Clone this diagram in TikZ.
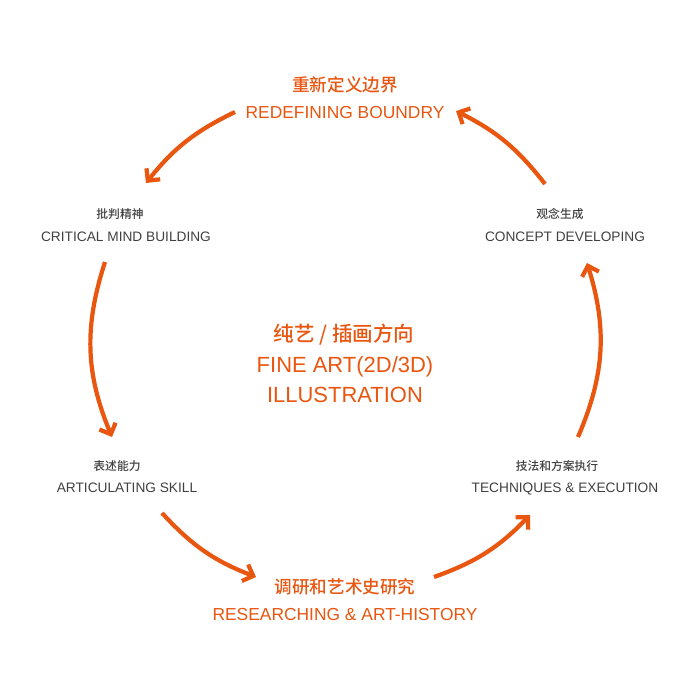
\documentclass[tikz,border=0pt]{standalone}
\usepackage{fontspec}
\setmainfont{Liberation Sans}
\newfontfamily\cjk{Noto Sans CJK SC Medium}
\usepackage{tikz}
\usetikzlibrary{arrows.meta, positioning}
\definecolor{accent}{RGB}{232, 86, 16}
\definecolor{labelgray}{RGB}{64, 64, 64}

\begin{document}
\begin{tikzpicture}[
    x=0.02cm, y=0.02cm,
    cnmain/.style={font=\cjk\fontsize{10}{12}\selectfont, text=accent, inner sep=0pt, text height=.76em, text depth=0pt},
    enmain/.style={font=\fontsize{9.9}{12}\selectfont, text=accent, inner sep=0pt, text height=.72em, text depth=0pt},
    cnsub/.style={font=\cjk\fontsize{6.7}{8}\selectfont, text=labelgray, inner sep=0pt, text height=.76em, text depth=0pt},
    ensub/.style={font=\fontsize{7.8}{10}\selectfont, text=labelgray, inner sep=0pt, text height=.72em, text depth=0pt},
    cnmid/.style={font=\cjk\fontsize{11.7}{14}\selectfont, text=accent, inner sep=0pt, text height=.76em, text depth=0pt},
    enmid/.style={font=\fontsize{12.5}{15}\selectfont, text=accent, inner sep=0pt, text height=.72em, text depth=0pt},
    arrow/.style={-{Straight Barb[length=5pt, width=10pt]}, line width=2.4pt, accent}
]
    \useasboundingbox (0,0) rectangle (700,-700);

    % Nodes
    \node[cnmain] (redefcn) at (345,-85) {重新定义边界};
    \node[enmain] (redef) at (345,-112) {REDEFINING BOUNDRY};
    \node[cnsub] (criticalcn) at (120,-212) {批判精神};
    \node[ensub] (critical) at (126,-235) {CRITICAL MIND BUILDING};
    \node[cnsub] (conceptcn) at (560,-212) {观念生成};
    \node[ensub] (concept) at (565,-235) {CONCEPT DEVELOPING};
    \node[cnsub] (articcn) at (117,-464) {表述能力};
    \node[ensub] (artic) at (127,-486) {ARTICULATING SKILL};
    \node[cnsub] (techcn) at (557,-464) {技法和方案执行};
    \node[ensub] (tech) at (565,-486) {TECHNIQUES \& EXECUTION};
    \node[cnmain] (researchcn) at (345,-587) {调研和艺术史研究};
    \node[enmain] (research) at (345,-614) {RESEARCHING \& ART-HISTORY};
    \node[cnmid] (fineartcn) at (344,-335) {纯艺 / 插画方向};
    \node[enmid] (fineart) at (345,-366) {FINE ART(2D/3D)};
    \node[enmid] (illus) at (345,-396) {ILLUSTRATION};

    % Arrow ends
    \coordinate (s1) at (235,-112);
    \coordinate (e1) at (146,-183);
    \coordinate (s2) at (105,-262);
    \coordinate (e2) at (112,-437);
    \coordinate (s3) at (162,-513);
    \coordinate (e3) at (256,-577);
    \coordinate (s4) at (434,-577);
    \coordinate (e4) at (530,-515);
    \coordinate (s5) at (578,-437);
    \coordinate (e5) at (587,-263);
    \coordinate (s6) at (545,-184);
    \coordinate (e6) at (456,-111);

    % Arrows
    \draw[arrow] (s1) to[bend right=12.8] (e1);
    \draw[arrow] (s2) to[bend right=20.3] (e2);
    \draw[arrow] (s3) to[bend right=13.2] (e3);
    \draw[arrow] (s4) to[bend right=13.2] (e4);
    \draw[arrow] (s5) to[bend right=20.3] (e5);
    \draw[arrow] (s6) to[bend right=12.8] (e6);
\end{tikzpicture}
\end{document}
